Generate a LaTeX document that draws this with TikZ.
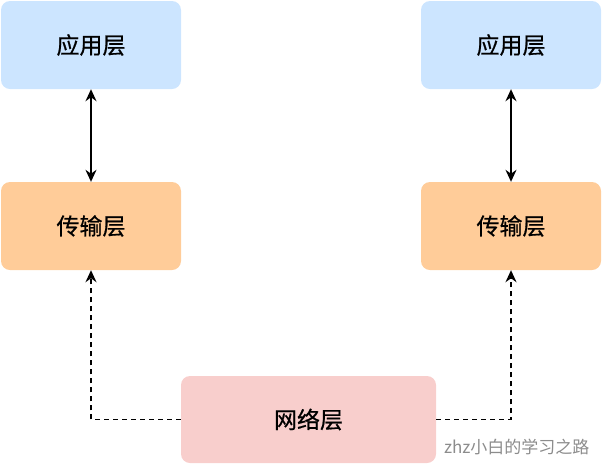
\documentclass[tikz,border=0pt]{standalone}
\usepackage{fontspec}
\newfontfamily\cjk[FakeBold=0.6]{Noto Sans CJK SC}
\newfontfamily\cjklight{Noto Sans CJK SC}
\usepackage{tikz}
\usetikzlibrary{arrows.meta,positioning}
\definecolor{appblue}{HTML}{CCE5FF}
\definecolor{transorange}{HTML}{FFCC99}
\definecolor{netpink}{HTML}{F8CECC}

\begin{document}
\begin{tikzpicture}[
    x=1pt, y=-1pt,
    every node/.style={font=\cjk\fontsize{23}{26}\selectfont},
    layer/.style={rounded corners=9pt, minimum width=180pt, minimum height=88pt, inner sep=0pt},
    arr/.style={{Stealth[length=12pt,width=11pt]}-{Stealth[length=12pt,width=11pt]}, line width=1.5pt},
    dasharr/.style={-{Stealth[length=12pt,width=11pt]}, line width=1.5pt, dash pattern=on 5pt off 4pt},
]
    \useasboundingbox (0,0) rectangle (602,467);

    % left stack
    \node[layer, fill=appblue] (appL) at (91,45) {应用层};
    \node[layer, fill=transorange] (transL) at (91,226) {传输层};
    \draw[arr] (appL) -- (transL);

    % right stack
    \node[layer, fill=appblue] (appR) at (511,45) {应用层};
    \node[layer, fill=transorange] (transR) at (511,226) {传输层};
    \draw[arr] (appR) -- (transR);

    % network
    \node[layer, fill=netpink, minimum width=255pt, minimum height=87pt] (net) at (308.5,419.5) {网络层};
    \draw[dasharr] (net.west) -| (transL.south);
    \draw[dasharr] (net.east) -| (transR.south);

    % watermark
    \node[font=\cjklight\fontsize{17}{20}\selectfont, text=black!45, anchor=east] (mark) at (593,447) {zhz小白的学习之路};
\end{tikzpicture}
\end{document}
